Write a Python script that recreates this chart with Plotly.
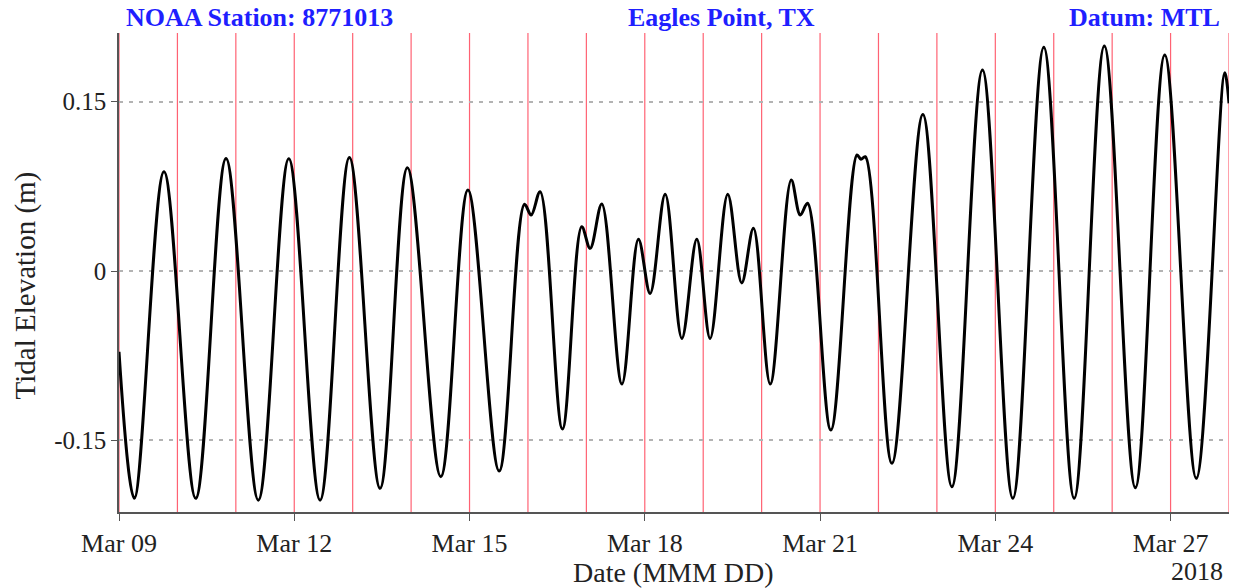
import plotly.graph_objects as go
import pandas as pd

# Times of tidal turning points and elevations (m)
times = [
    "2018-03-09 00:00", "2018-03-09 06:17", "2018-03-09 18:29", "2018-03-10 07:31",
    "2018-03-10 19:58", "2018-03-11 09:14", "2018-03-11 21:45", "2018-03-12 10:36",
    "2018-03-12 22:39", "2018-03-13 11:15", "2018-03-13 22:29", "2018-03-14 12:12",
    "2018-03-14 23:21", "2018-03-15 12:10", "2018-03-15 22:34", "2018-03-16 01:19",
    "2018-03-16 05:01", "2018-03-16 14:10", "2018-03-16 22:05", "2018-03-17 01:34",
    "2018-03-17 06:20", "2018-03-17 14:36", "2018-03-17 21:24", "2018-03-18 02:12",
    "2018-03-18 08:23", "2018-03-18 15:14", "2018-03-18 21:22", "2018-03-19 02:50",
    "2018-03-19 10:05", "2018-03-19 15:50", "2018-03-19 20:38", "2018-03-20 03:32",
    "2018-03-20 12:10", "2018-03-20 15:52", "2018-03-20 18:52", "2018-03-21 04:26",
    "2018-03-21 15:10", "2018-03-21 16:48", "2018-03-21 18:35", "2018-03-22 05:31",
    "2018-03-22 18:14", "2018-03-23 06:10", "2018-03-23 18:43", "2018-03-24 07:12",
    "2018-03-24 19:55", "2018-03-25 08:24", "2018-03-25 20:47", "2018-03-26 09:32",
    "2018-03-26 21:36", "2018-03-27 10:34", "2018-03-27 22:15", "2018-03-28 00:00",
]
elevation = [
    -0.0715, -0.2014, 0.0880, -0.2014,
    0.0998, -0.2030, 0.0995, -0.2030,
    0.1007, -0.1925, 0.0915, -0.1822,
    0.0718, -0.1772, 0.0591, 0.0496,
    0.0703, -0.1400, 0.0393, 0.0201,
    0.0594, -0.1001, 0.0281, -0.0198,
    0.0680, -0.0597, 0.0281, -0.0597,
    0.0680, -0.0105, 0.0378, -0.1001,
    0.0806, 0.0496, 0.0600, -0.1409,
    0.1028, 0.0990, 0.1013, -0.1704,
    0.1388, -0.1911, 0.1781, -0.2014,
    0.1982, -0.2014, 0.1993, -0.1920,
    0.1914, -0.1837, 0.1757, 0.1486,
]

day_lines = pd.date_range("2018-03-09", "2018-03-28", freq="D")
y_ticks = [-0.15, 0, 0.15]
y_tick_text = ["-0.15", "0", "0.15"]

FONT = "Liberation Serif"
TXT = "#222222"

fig = go.Figure()
fig.add_trace(go.Scatter(
    x=pd.to_datetime(times), y=elevation, mode="lines",
    line=dict(color="black", width=3, shape="spline", smoothing=1.0),
    showlegend=False, hoverinfo="x+y",
))

for d in day_lines:
    fig.add_shape(type="line", xref="x", yref="paper", x0=d, x1=d, y0=0, y1=1,
                  line=dict(color="rgba(255,70,90,0.85)", width=1.2), layer="below")

fig.update_layout(
    width=1233, height=588,
    margin=dict(l=119, r=4, t=33, b=76),
    paper_bgcolor="white", plot_bgcolor="white",
    font=dict(family=FONT, size=25, color=TXT),
    xaxis=dict(
        range=["2018-03-09 00:00", "2018-03-28 00:00"],
        tick0="2018-03-09", dtick=3 * 86400000, tickformat="%b %d",
        showgrid=False, zeroline=False,
        showline=True, linecolor="#555", linewidth=1.5,
        ticks="outside", ticklen=7, tickcolor="#555", tickwidth=1.2,
        tickfont=dict(family=FONT, size=26, color=TXT),
    ),
    yaxis=dict(
        range=[-0.2135, 0.2109],
        tickvals=y_ticks, ticktext=y_tick_text,
        showgrid=True, gridcolor="#b3b3b3", gridwidth=1.5, griddash="4px,6px",
        zeroline=False,
        showline=True, linecolor="#555", linewidth=1.5,
        ticks="outside", ticklen=6, tickcolor="#555", tickwidth=1.2,
        tickfont=dict(family=FONT, size=25, color=TXT),
    ),
)

title_font = dict(family=FONT, size=26, color="#1f1fff")
fig.add_annotation(text="<b>NOAA Station: 8771013</b>", xref="paper", yref="paper",
                   x=0.0045, y=1, xanchor="left", yanchor="middle", yshift=16,
                   showarrow=False, font=title_font)
fig.add_annotation(text="<b>Eagles Point, TX</b>", xref="paper", yref="paper",
                   x=0.543, y=1, xanchor="center", yanchor="middle", yshift=16,
                   showarrow=False, font=title_font)
fig.add_annotation(text="<b>Datum: MTL</b>", xref="paper", yref="paper",
                   x=0.9937, y=1, xanchor="right", yanchor="middle", yshift=16,
                   showarrow=False, font=title_font)
fig.add_annotation(text="Tidal Elevation (m)", xref="paper", yref="paper",
                   x=0, xshift=-94, y=0.473, xanchor="center", yanchor="middle",
                   textangle=-90, showarrow=False,
                   font=dict(family=FONT, size=29, color=TXT))
fig.add_annotation(text="Date (MMM DD)", xref="paper", yref="paper",
                   x=0.4998, y=0, yshift=-60, xanchor="center", yanchor="middle",
                   showarrow=False, font=dict(family=FONT, size=28, color=TXT))
fig.add_annotation(text="2018", xref="paper", yref="paper",
                   x=0.971, y=0, yshift=-59, xanchor="center", yanchor="middle",
                   showarrow=False, font=dict(family=FONT, size=26, color=TXT))

fig.write_html("out.html")
